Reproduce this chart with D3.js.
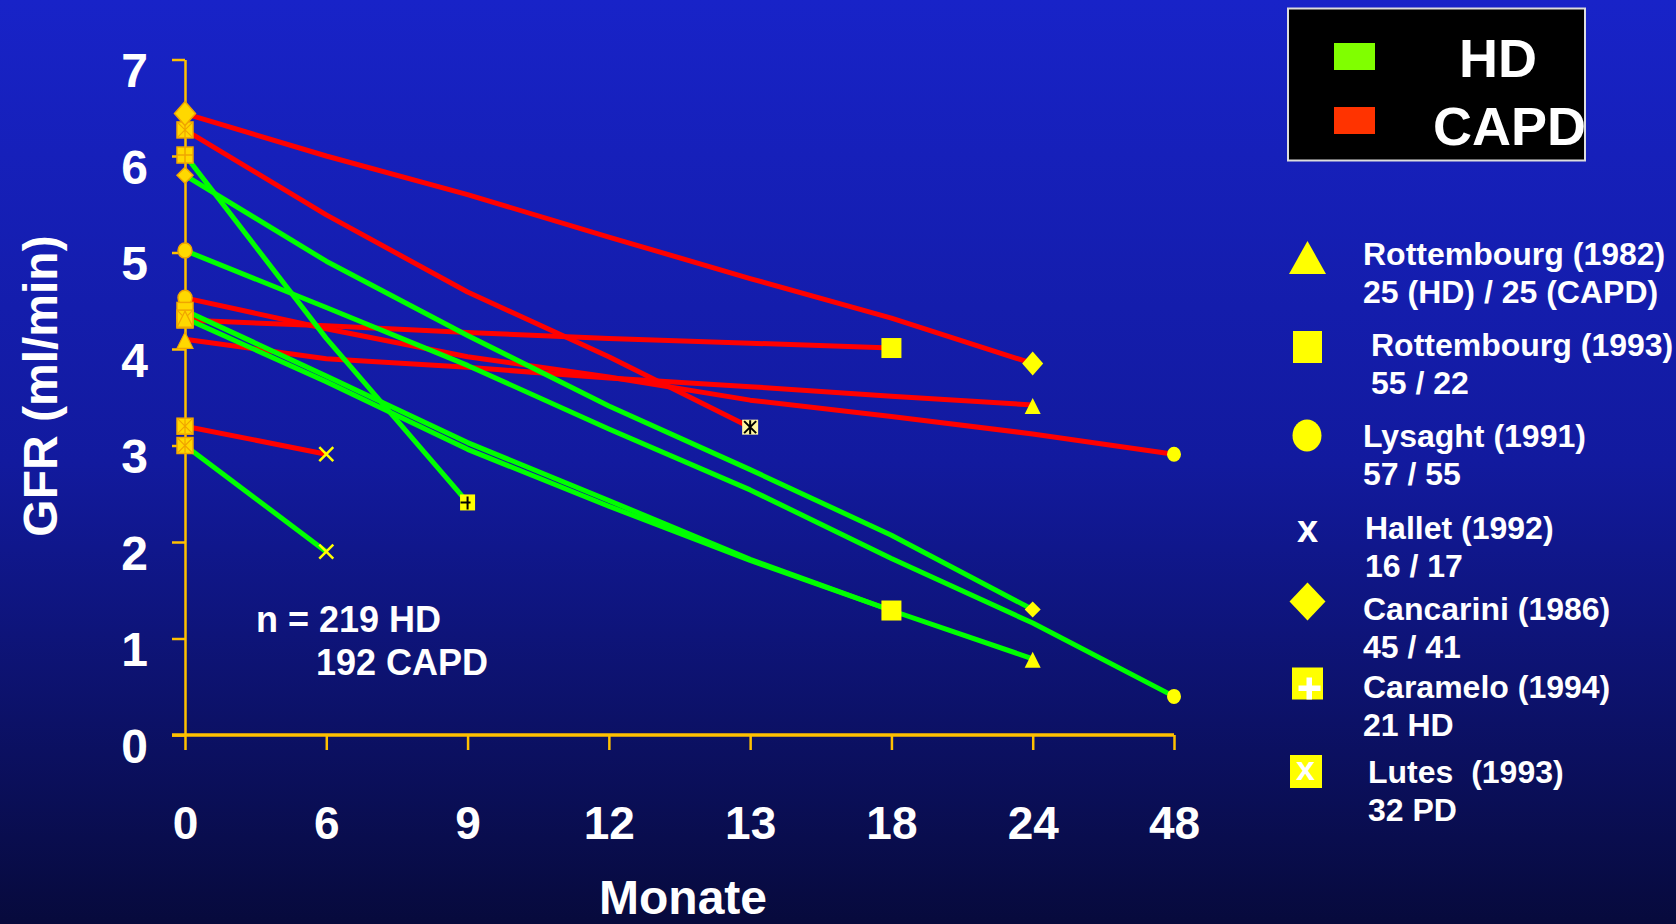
<!DOCTYPE html>
<html>
<head>
<meta charset="utf-8">
<script src="https://d3js.org/d3.v7.min.js"></script>
<style>
  body { margin: 0; background: #0c1170; }
  svg { display: block; }
  text { font-family: "Liberation Sans", Arial, sans-serif; font-weight: bold; fill: #fff; }
</style>
</head>
<body>
<svg id="chart" width="1676" height="924"></svg>
<script>
/* Categories (months) and y ticks */
var months = ["0", "6", "9", "12", "13", "18", "24", "48"];
var yTicks = [0, 1, 2, 3, 4, 5, 6, 7];

/* GFR values per study, one value per month category starting at 0 */
var rott82HD      = [4.32, 3.66, 2.96, 2.37, 1.81, 1.29, 0.79];
var rott82CAPD    = [4.10, 3.90, 3.81, 3.70, 3.61, 3.51, 3.42];
var rott93HD      = [4.40, 3.72, 3.03, 2.43, 1.82, 1.29];
var rott93CAPD    = [4.30, 4.24, 4.17, 4.11, 4.06, 4.01];
var lysaghtHD     = [5.02, 4.43, 3.83, 3.17, 2.54, 1.83, 1.16, 0.40];
var lysaghtCAPD   = [4.53, 4.21, 3.92, 3.71, 3.47, 3.30, 3.12, 2.91];
var halletHD      = [3.00, 1.90];
var halletCAPD    = [3.20, 2.91];
var cancariniHD   = [5.80, 4.91, 4.14, 3.41, 2.75, 2.07, 1.30];
var cancariniCAPD = [6.44, 6.00, 5.60, 5.16, 4.73, 4.32, 3.85];
var carameloHD    = [6.01, 4.11, 2.41];
var lutesPD       = [6.27, 5.39, 4.59, 3.92, 3.19];

/* Legend texts */
var groups = ["HD", "CAPD"];
var studies = ["Rottembourg (1982)", "Rottembourg (1993)", "Lysaght (1991)", "Hallet (1992)",
               "Cancarini (1986)", "Caramelo (1994)", "Lutes  (1993)"];
var patients = ["25 (HD) / 25 (CAPD)", "55 / 22", "57 / 55", "16 / 17", "45 / 41", "21 HD", "32 PD"];
var note = ["n = 219 HD", "192 CAPD"];

var W = 1676, H = 924;
var red = "#FF0000", green = "#00FF00", gold = "#FFC000";
var svg = d3.select("#chart");

/* Background: blue fading to navy */
var grad = svg.append("defs").append("linearGradient")
  .attr("id", "bg").attr("x1", 0).attr("y1", 0).attr("x2", 0).attr("y2", 1);
grad.append("stop").attr("offset", 0).attr("stop-color", "#1823C8");
grad.append("stop").attr("offset", 0.5).attr("stop-color", "#121A9E");
grad.append("stop").attr("offset", 1).attr("stop-color", "#070A3C");
svg.append("rect").attr("width", W).attr("height", H).attr("fill", "url(#bg)");

/* Scales */
var x = d3.scalePoint().domain(months).range([185, 1174]);
var y = d3.scaleLinear().domain([0, 7]).range([735, 59.5]);

/* X axis */
svg.append("line")
  .attr("x1", 172).attr("x2", x("48")).attr("y1", y(0)).attr("y2", y(0))
  .attr("stroke", gold).attr("stroke-width", 3.5);
var xAxis = svg.append("g").attr("transform", "translate(0," + y(0) + ")")
  .call(d3.axisBottom(x).tickSize(15).tickSizeOuter(0));
xAxis.select(".domain").remove();
xAxis.selectAll(".tick line").attr("stroke", gold).attr("stroke-width", 2.5);
xAxis.selectAll(".tick text").attr("y", 104).attr("dy", 0).style("font-size", "46px");

/* Y axis */
var yAxis = svg.append("g").attr("transform", "translate(185,0)")
  .call(d3.axisLeft(y).tickValues(yTicks).tickSize(13).tickSizeOuter(0).tickFormat(d3.format("d")));
yAxis.select(".domain").attr("stroke", gold).attr("stroke-width", 2.5);
yAxis.selectAll(".tick line").attr("stroke", gold).attr("stroke-width", 2.5);
yAxis.selectAll(".tick text").attr("x", -37).attr("dy", 0).attr("y", 27).style("font-size", "48px");

/* Axis titles */
svg.append("text").attr("x", 683).attr("y", 914).attr("text-anchor", "middle")
  .style("font-size", "48px").text("Monate");
svg.append("text").attr("transform", "translate(57,386) rotate(-90)").attr("text-anchor", "middle")
  .style("font-size", "48px").text("GFR (ml/min)");

/* Series table built from the arrays */
var series = [
  { vals: rott93CAPD,    color: red,   start: "square",     end: "squareBig" },
  { vals: rott82CAPD,    color: red,   start: "triangle",   end: "triangle" },
  { vals: lysaghtCAPD,   color: red,   start: "circle",     end: "circle" },
  { vals: halletCAPD,    color: red,   start: "squareX",    end: "xMark" },
  { vals: lutesPD,       color: red,   start: "squareX",    end: "squareStar" },
  { vals: cancariniCAPD, color: red,   start: "diamondBig", end: "diamondBig" },
  { vals: rott93HD,      color: green, start: "square",     end: "squareBig" },
  { vals: rott82HD,      color: green, start: "squareTri",  end: "triangle" },
  { vals: lysaghtHD,     color: green, start: "circle",     end: "circle" },
  { vals: halletHD,      color: green, start: "squareX",    end: "xMark" },
  { vals: cancariniHD,   color: green, start: "diamond",    end: "diamond" },
  { vals: carameloHD,    color: green, start: "squarePlus", end: "squarePlusEnd" }
];

var line = d3.line()
  .x(function(d, i) { return x(months[i]); })
  .y(function(d) { return y(d); });

svg.append("g").selectAll("path").data(series).enter().append("path")
  .attr("d", function(s) { return line(s.vals); })
  .attr("fill", "none")
  .attr("stroke", function(s) { return s.color; })
  .attr("stroke-width", 5)
  .attr("stroke-linejoin", "round");

/* Markers */
var marker = function(sym, cx, cy, isStart) {
  var fill = isStart ? "#FFD800" : "#FFFF00";
  var edge = isStart ? "#F0A500" : "none";
  var g = svg.append("g").attr("transform", "translate(" + cx + "," + cy + ")");
  var box = function(s) {
    return g.append("rect").attr("x", -s / 2).attr("y", -s / 2).attr("width", s).attr("height", s)
      .attr("fill", fill).attr("stroke", edge).attr("stroke-width", 1.5);
  };
  if (sym == "circle") {
    g.append("ellipse").attr("rx", 7).attr("ry", 7.5).attr("fill", fill).attr("stroke", edge).attr("stroke-width", 1.5);
  } else if (sym == "square") {
    box(16);
  } else if (sym == "squareBig") {
    box(20);
  } else if (sym == "triangle" || sym == "squareTri") {
    if (sym == "squareTri") {
      box(16);
      g.append("path").attr("d", "M-7,-7L7,7M7,-7L-7,7").attr("stroke", edge).attr("stroke-width", 1.2);
    }
    g.append("path").attr("d", "M0,-7L8,9L-8,9Z").attr("fill", fill).attr("stroke", edge).attr("stroke-width", 1.2);
  } else if (sym == "diamondBig") {
    g.append("path").attr("d", "M0,-12L10.5,0L0,12L-10.5,0Z").attr("fill", fill).attr("stroke", edge).attr("stroke-width", 1.5);
  } else if (sym == "diamond") {
    g.append("path").attr("d", "M0,-8L8,0L0,8L-8,0Z").attr("fill", fill).attr("stroke", edge).attr("stroke-width", 1.5);
  } else if (sym == "squareX") {
    box(16);
    g.append("path").attr("d", "M-7,-7L7,7M7,-7L-7,7M0,-7L0,7").attr("stroke", edge).attr("stroke-width", 1.2);
  } else if (sym == "squarePlus") {
    box(16);
    g.append("path").attr("d", "M-8,0L8,0M0,-8L0,8").attr("stroke", edge).attr("stroke-width", 1.5);
  } else if (sym == "squarePlusEnd") {
    g.append("rect").attr("x", -7.5).attr("y", -8).attr("width", 15).attr("height", 16).attr("fill", "#FFFF00");
    g.append("path").attr("d", "M-7,0L3,0M0,-6L0,7").attr("stroke", "#000").attr("stroke-width", 2);
  } else if (sym == "squareStar") {
    g.append("rect").attr("x", -8).attr("y", -7.5).attr("width", 16).attr("height", 15).attr("fill", "#FFF6A0");
    g.append("path").attr("d", "M-6,-6L6,6M6,-6L-6,6M0,-7L0,7").attr("stroke", "#000").attr("stroke-width", 2);
  } else if (sym == "xMark") {
    g.append("path").attr("d", "M-7,-7L7,7M7,-7L-7,7").attr("stroke", "#FFFF00").attr("stroke-width", 2.5);
  }
};

series.forEach(function(s) {
  var last = s.vals.length - 1;
  marker(s.end, x(months[last]), y(s.vals[last]), false);
});
series.forEach(function(s) {
  marker(s.start, x(months[0]), y(s.vals[0]), true);
});

/* Note inside the plot */
svg.append("text").attr("x", 256).attr("y", 632).style("font-size", "36px").text(note[0]);
svg.append("text").attr("x", 316).attr("y", 675).style("font-size", "36px").text(note[1]);

/* Legend box: HD / CAPD */
svg.append("rect").attr("x", 1288).attr("y", 8.5).attr("width", 297).attr("height", 152)
  .attr("fill", "#000").attr("stroke", "#DDDDDD").attr("stroke-width", 2);
svg.append("rect").attr("x", 1334).attr("y", 43).attr("width", 41).attr("height", 27).attr("fill", "#80FF00");
svg.append("rect").attr("x", 1334).attr("y", 107).attr("width", 41).attr("height", 27).attr("fill", "#FF3300");
svg.append("text").attr("x", 1459).attr("y", 77).style("font-size", "54px").text(groups[0]);
svg.append("text").attr("x", 1433).attr("y", 145).style("font-size", "54px").text(groups[1]);

/* Legend: studies with their symbols */
var rowY = [265, 356, 447, 539, 620, 698, 783];
var rowX = [1363, 1371, 1363, 1365, 1363, 1363, 1368];
var leg = svg.append("g");
studies.forEach(function(s, i) {
  leg.append("text").attr("x", rowX[i]).attr("y", rowY[i]).style("font-size", "32px")
    .attr("xml:space", "preserve").style("white-space", "pre").text(s);
  leg.append("text").attr("x", rowX[i]).attr("y", rowY[i] + 37.5).style("font-size", "32px").text(patients[i]);
});

var sym = "#FFFF00";
leg.append("path").attr("d", "M1307.5,241L1326,274L1289,274Z").attr("fill", sym);
leg.append("rect").attr("x", 1293).attr("y", 331).attr("width", 29).attr("height", 32).attr("fill", sym);
leg.append("ellipse").attr("cx", 1307).attr("cy", 435.5).attr("rx", 14.5).attr("ry", 16).attr("fill", sym);
leg.append("text").attr("x", 1307.5).attr("y", 542).attr("text-anchor", "middle").style("font-size", "38px").text("x");
leg.append("path").attr("d", "M1307.5,582.5L1325.5,601.5L1307.5,620.5L1289.5,601.5Z").attr("fill", sym);
leg.append("rect").attr("x", 1292).attr("y", 667.5).attr("width", 31).attr("height", 32).attr("fill", sym);
leg.append("rect").attr("x", 1298.5).attr("y", 685.5).attr("width", 22).attr("height", 5.5).attr("fill", "#fff");
leg.append("rect").attr("x", 1306.5).attr("y", 677.5).attr("width", 5.5).attr("height", 22).attr("fill", "#fff");
leg.append("rect").attr("x", 1290).attr("y", 755).attr("width", 32).attr("height", 33).attr("fill", sym);
leg.append("text").attr("x", 1305.5).attr("y", 780).attr("text-anchor", "middle").style("font-size", "34px").text("x");
</script>
</body>
</html>
